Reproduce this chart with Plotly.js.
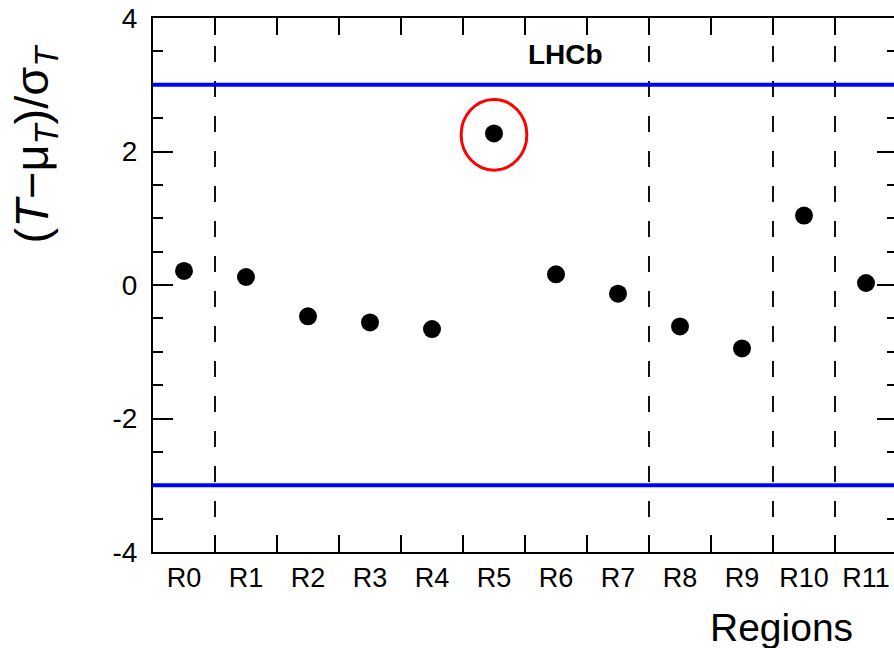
<!DOCTYPE html>
<html>
<head>
<meta charset="utf-8">
<script src="https://cdn.plot.ly/plotly-3.0.1.min.js"></script>
<style>
  html, body { margin: 0; padding: 0; overflow: hidden; background: #fff; }
  #chart { width: 900px; height: 648px; }
</style>
</head>
<body>
<div id="chart"></div>
<script>
// ---- data ----
const regions = ["R0","R1","R2","R3","R4","R5","R6","R7","R8","R9","R10","R11"];
const pullValues = [0.21, 0.12, -0.47, -0.56, -0.66, 2.27, 0.16, -0.13, -0.62, -0.95, 1.04, 0.03];
const thresholds = [3, -3];
const dividerAfter = ["R0", "R7", "R9", "R10"];   // dashed separators after these regions
const highlighted = "R5";                          // circled region
const yTicks = [-4, -2, 0, 2, 4];

const shapes = [];
thresholds.forEach(v => shapes.push({
  type: "line", xref: "paper", x0: 0, x1: 1, yref: "y", y0: v, y1: v,
  line: { color: "#0000ff", width: 4 }, layer: "above"
}));
dividerAfter.forEach(r => {
  const xb = regions.indexOf(r) + 0.5;
  shapes.push({
    type: "line", xref: "x", x0: xb, x1: xb, yref: "paper", y0: 0, y1: 1,
    line: { color: "#111", width: 2, dash: "16px,19px" }, layer: "below"
  });
});
const hi = regions.indexOf(highlighted);
const hv = pullValues[hi];
shapes.push({
  type: "circle", xref: "x", yref: "y",
  x0: hi - 0.53, x1: hi + 0.53, y0: hv - 0.55, y1: hv + 0.51,
  line: { color: "#ff0000", width: 3 }
});

const trace = {
  type: "scatter", mode: "markers",
  x: regions, y: pullValues,
  marker: { color: "#000", size: 18 },
  hoverinfo: "x+y"
};

const font = "Liberation Sans, Arial, Helvetica, sans-serif";
const layout = {
  width: 900, height: 648,
  margin: { l: 153, r: 3, t: 18, b: 96 },
  paper_bgcolor: "#fff", plot_bgcolor: "#fff",
  showlegend: false,
  font: { family: font, color: "#000" },
  xaxis: {
    type: "category", range: [-0.5, 11.5],
    tickson: "boundaries",
    ticks: "inside", ticklen: 17, tickwidth: 2, tickcolor: "#000",
    showline: true, linecolor: "#000", linewidth: 2, mirror: "allticks",
    showgrid: false, zeroline: false,
    tickfont: { size: 27, family: font, color: "#000" },
    ticklabelstandoff: 1
  },
  yaxis: {
    range: [-4, 4], tickvals: yTicks, ticktext: yTicks.map(String),
    ticks: "inside", ticklen: 20, tickwidth: 2, tickcolor: "#000",
    minor: { dtick: 0.5, ticks: "inside", ticklen: 10, tickwidth: 2, tickcolor: "#000", showgrid: false },
    showline: true, linecolor: "#000", linewidth: 2, mirror: "allticks",
    showgrid: false, zeroline: false,
    tickfont: { size: 28, family: font, color: "#000" },
    ticklabelstandoff: 8
  },
  shapes: shapes,
  annotations: [
    { text: "<b>LHCb</b>", xref: "paper", yref: "paper", x: 0.555, y: 0.931,
      xanchor: "center", yanchor: "middle", showarrow: false,
      font: { size: 28, family: font, color: "#000" } },
    { text: "(<i>T</i>−μ<sub><i>T</i></sub>)/σ<sub><i>T</i></sub>",
      xref: "paper", yref: "paper", x: -0.158, y: 0.766, textangle: -90,
      xanchor: "center", yanchor: "middle", showarrow: false,
      font: { size: 47, family: font, color: "#000" } },
    { text: "Regions", xref: "paper", yref: "paper", x: 0.943, y: -0.141,
      xanchor: "right", yanchor: "middle", showarrow: false,
      font: { size: 39, family: font, color: "#000" } }
  ]
};

Plotly.newPlot("chart", [trace], layout, { displayModeBar: false, staticPlot: true });
</script>
</body>
</html>
